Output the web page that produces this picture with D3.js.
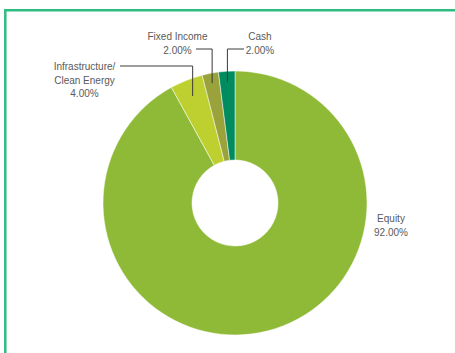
<!DOCTYPE html>
<html>
<head>
<meta charset="utf-8">
<script src="https://cdn.jsdelivr.net/npm/d3@7"></script>
<style>
  body { margin: 0; background: #fff; }
  text { font-family: "Liberation Sans", Arial, sans-serif; font-size: 10px; fill: #5a5a5a; }
</style>
</head>
<body>
<div id="chart"></div>
<script>
// data
const categories = ["Equity", "Infrastructure/ Clean Energy", "Fixed Income", "Cash"];
const shares = [92, 4, 2, 2];
const shareLabels = ["92.00%", "4.00%", "2.00%", "2.00%"];
const colors = ["#8fba37", "#bdd02f", "#9aa23b", "#008c5f"];

// Define SVG area dimensions
let svgWidth = 455;
let svgHeight = 353;

let cx = 235;
let cy = 203;
let outerR = 132;
let innerR = 43;

let svg = d3.select("#chart")
  .append("svg")
  .attr("width", svgWidth)
  .attr("height", svgHeight);

// green frame (right and bottom run off the picture)
svg.append("path")
  .attr("d", "M5.3,360 L5.3,10.2 L470,10.2")
  .attr("fill", "none")
  .attr("stroke", "#2dbd82")
  .attr("stroke-width", 2.5);

let data = categories.map((c, i) => ({ name: c, value: shares[i], label: shareLabels[i], color: colors[i] }));

let pie = d3.pie().sort(null).value(d => d.value);
let arcs = pie(data);

let arc = d3.arc().innerRadius(innerR).outerRadius(outerR);

let g = svg.append("g").attr("transform", `translate(${cx}, ${cy})`);

g.selectAll("path.slice")
  .data(arcs)
  .enter().append("path")
  .attr("class", "slice")
  .attr("d", arc)
  .attr("fill", d => d.data.color)
  .attr("stroke", "#fff")
  .attr("stroke-width", 0.5);

// label layout per slice: text position, leader end radius, elbow height
let layout = [
  { x: 391, y: 222, lead: null },
  { x: 84.5, y: 70, lead: { r: 115, y: 66, x2: 120 } },
  { x: 177.5, y: 40, lead: { r: 122, y: 49, x2: 196 } },
  { x: 260, y: 40, lead: { r: 121, y: 49, x2: 244 } }
];

arcs.forEach(function(a, i) {
  let L = layout[i];
  let lines = a.data.name.split(" ");
  // keep "Infrastructure/" on its own line
  let textLines = a.data.name.indexOf("/") > -1
    ? [lines[0], lines.slice(1).join(" ")]
    : [a.data.name];
  textLines.push(a.data.label);

  let t = svg.append("text")
    .attr("x", L.x)
    .attr("y", L.y)
    .attr("text-anchor", "middle");
  textLines.forEach(function(s, k) {
    t.append("tspan")
      .attr("x", L.x)
      .attr("dy", k === 0 ? 0 : 13.5)
      .text(s);
  });

  if (L.lead) {
    let mid = (a.startAngle + a.endAngle) / 2;
    let px = cx + L.lead.r * Math.sin(mid);
    let py = cy - L.lead.r * Math.cos(mid);
    svg.append("polyline")
      .attr("points", `${px},${py} ${px},${L.lead.y} ${L.lead.x2},${L.lead.y}`)
      .attr("fill", "none")
      .attr("stroke", "#3a3a3a")
      .attr("stroke-width", 1);
  }
});
</script>
</body>
</html>
